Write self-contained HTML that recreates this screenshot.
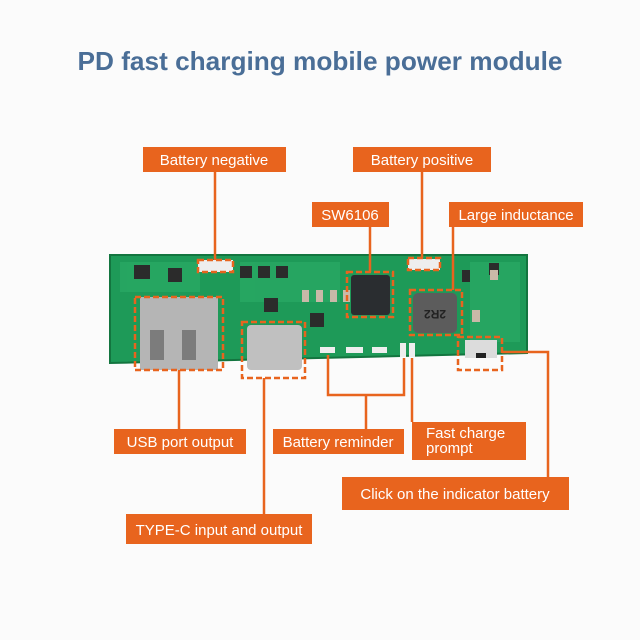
<!DOCTYPE html>
<html><head><meta charset="utf-8"><style>
html,body{margin:0;padding:0;background:#fff;}
svg{display:block;}
text{font-family:"Liberation Sans",sans-serif;}
</style></head><body>
<svg width="640" height="640" viewBox="0 0 640 640" xmlns="http://www.w3.org/2000/svg">
<rect width="640" height="640" fill="#fbfbfb"/>
<text x="320" y="70" text-anchor="middle" font-size="26" font-weight="bold" fill="#4a6e97" textLength="485" lengthAdjust="spacingAndGlyphs">PD fast charging mobile power module</text>

<!-- PCB -->
<polygon points="110,255 527,255 527,353 110,363" fill="#1e9a58" stroke="#13753f" stroke-width="2"/>
<g fill="#2cae68" opacity="0.6">
<rect x="120" y="262" width="80" height="30"/><rect x="240" y="262" width="100" height="40"/><rect x="470" y="262" width="50" height="80"/>
</g>
<!-- small components -->
<g fill="#2b2b2b">
<rect x="134" y="265" width="16" height="14"/><rect x="168" y="268" width="14" height="14"/>
<rect x="240" y="266" width="12" height="12"/><rect x="258" y="266" width="12" height="12"/><rect x="276" y="266" width="12" height="12"/>
<rect x="264" y="298" width="14" height="14"/><rect x="310" y="313" width="14" height="14"/>
<rect x="462" y="270" width="8" height="12"/><rect x="489" y="263" width="10" height="12"/>
</g>
<g fill="#c9b9a8"><rect x="302" y="290" width="7" height="12"/><rect x="316" y="290" width="7" height="12"/><rect x="330" y="290" width="7" height="12"/><rect x="343" y="290" width="7" height="12"/><rect x="490" y="270" width="8" height="10"/><rect x="472" y="310" width="8" height="12"/></g>
<rect x="198" y="260" width="35" height="12" fill="#eee"/>
<rect x="408" y="259" width="32" height="11" fill="#eee"/>
<!-- chip -->
<rect x="351" y="275" width="39" height="40" rx="3" fill="#2a2d30"/>
<!-- inductor -->
<rect x="413" y="293" width="44" height="40" rx="5" fill="#5c5c5c"/>
<text x="435" y="318" text-anchor="middle" font-size="12" font-weight="bold" fill="#222" transform="rotate(180 435 314)">2R2</text>
<!-- USB A -->
<rect x="140" y="297" width="78" height="73" fill="#b5b5b5"/>
<rect x="150" y="330" width="14" height="30" fill="#7c7c7c"/><rect x="182" y="330" width="14" height="30" fill="#7c7c7c"/>
<!-- Type C -->
<rect x="247" y="325" width="55" height="45" rx="4" fill="#c0c0c0"/>
<!-- LEDs -->
<g fill="#eeeeee"><rect x="320" y="347" width="15" height="6"/><rect x="346" y="347" width="17" height="6"/><rect x="372" y="347" width="15" height="6"/><rect x="400" y="343" width="6" height="14"/><rect x="409" y="343" width="6" height="14"/></g>
<!-- button -->
<rect x="465" y="340" width="32" height="18" fill="#dcdcdc"/><rect x="476" y="353" width="10" height="5" fill="#222"/>

<!-- dashed boxes -->
<g fill="none" stroke="#e8641e" stroke-width="2.5" stroke-dasharray="6,3">
<rect x="198" y="260" width="35" height="12"/>
<rect x="408" y="258" width="32" height="12"/>
<rect x="347" y="272" width="46" height="45"/>
<rect x="410" y="290" width="52" height="45"/>
<rect x="135" y="297" width="88" height="73"/>
<rect x="242" y="322" width="63" height="56"/>
<rect x="458" y="337" width="44" height="33"/>
</g>

<!-- connectors -->
<g fill="none" stroke="#e8641e" stroke-width="2.5">
<path d="M215 172V260"/>
<path d="M422 172V258"/>
<path d="M370 227V272"/>
<path d="M453 227V290"/>
<path d="M179 370V429"/>
<path d="M264 378V514"/>
<path d="M328 355V395H404V358M366 395V429"/>
<path d="M412 358V422"/>
<path d="M502 352H548V477"/>
</g>

<!-- labels -->
<g fill="#e8641e">
<rect x="143" y="147" width="143" height="25"/>
<rect x="353" y="147" width="138" height="25"/>
<rect x="312" y="202" width="77" height="25"/>
<rect x="449" y="202" width="134" height="25"/>
<rect x="114" y="429" width="132" height="25"/>
<rect x="273" y="429" width="131" height="25"/>
<rect x="412" y="422" width="114" height="38"/>
<rect x="342" y="477" width="227" height="33"/>
<rect x="126" y="514" width="186" height="30"/>
</g>
<g fill="#fff" font-size="15">
<text x="214" y="165" text-anchor="middle">Battery negative</text>
<text x="422" y="165" text-anchor="middle">Battery positive</text>
<text x="350" y="220" text-anchor="middle">SW6106</text>
<text x="516" y="220" text-anchor="middle">Large inductance</text>
<text x="180" y="447" text-anchor="middle">USB port output</text>
<text x="338" y="447" text-anchor="middle">Battery reminder</text>
<text x="426" y="438">Fast charge</text>
<text x="426" y="453">prompt</text>
<text x="455" y="499" text-anchor="middle">Click on the indicator battery</text>
<text x="219" y="535" text-anchor="middle">TYPE-C input and output</text>
</g>
</svg>
</body></html>
